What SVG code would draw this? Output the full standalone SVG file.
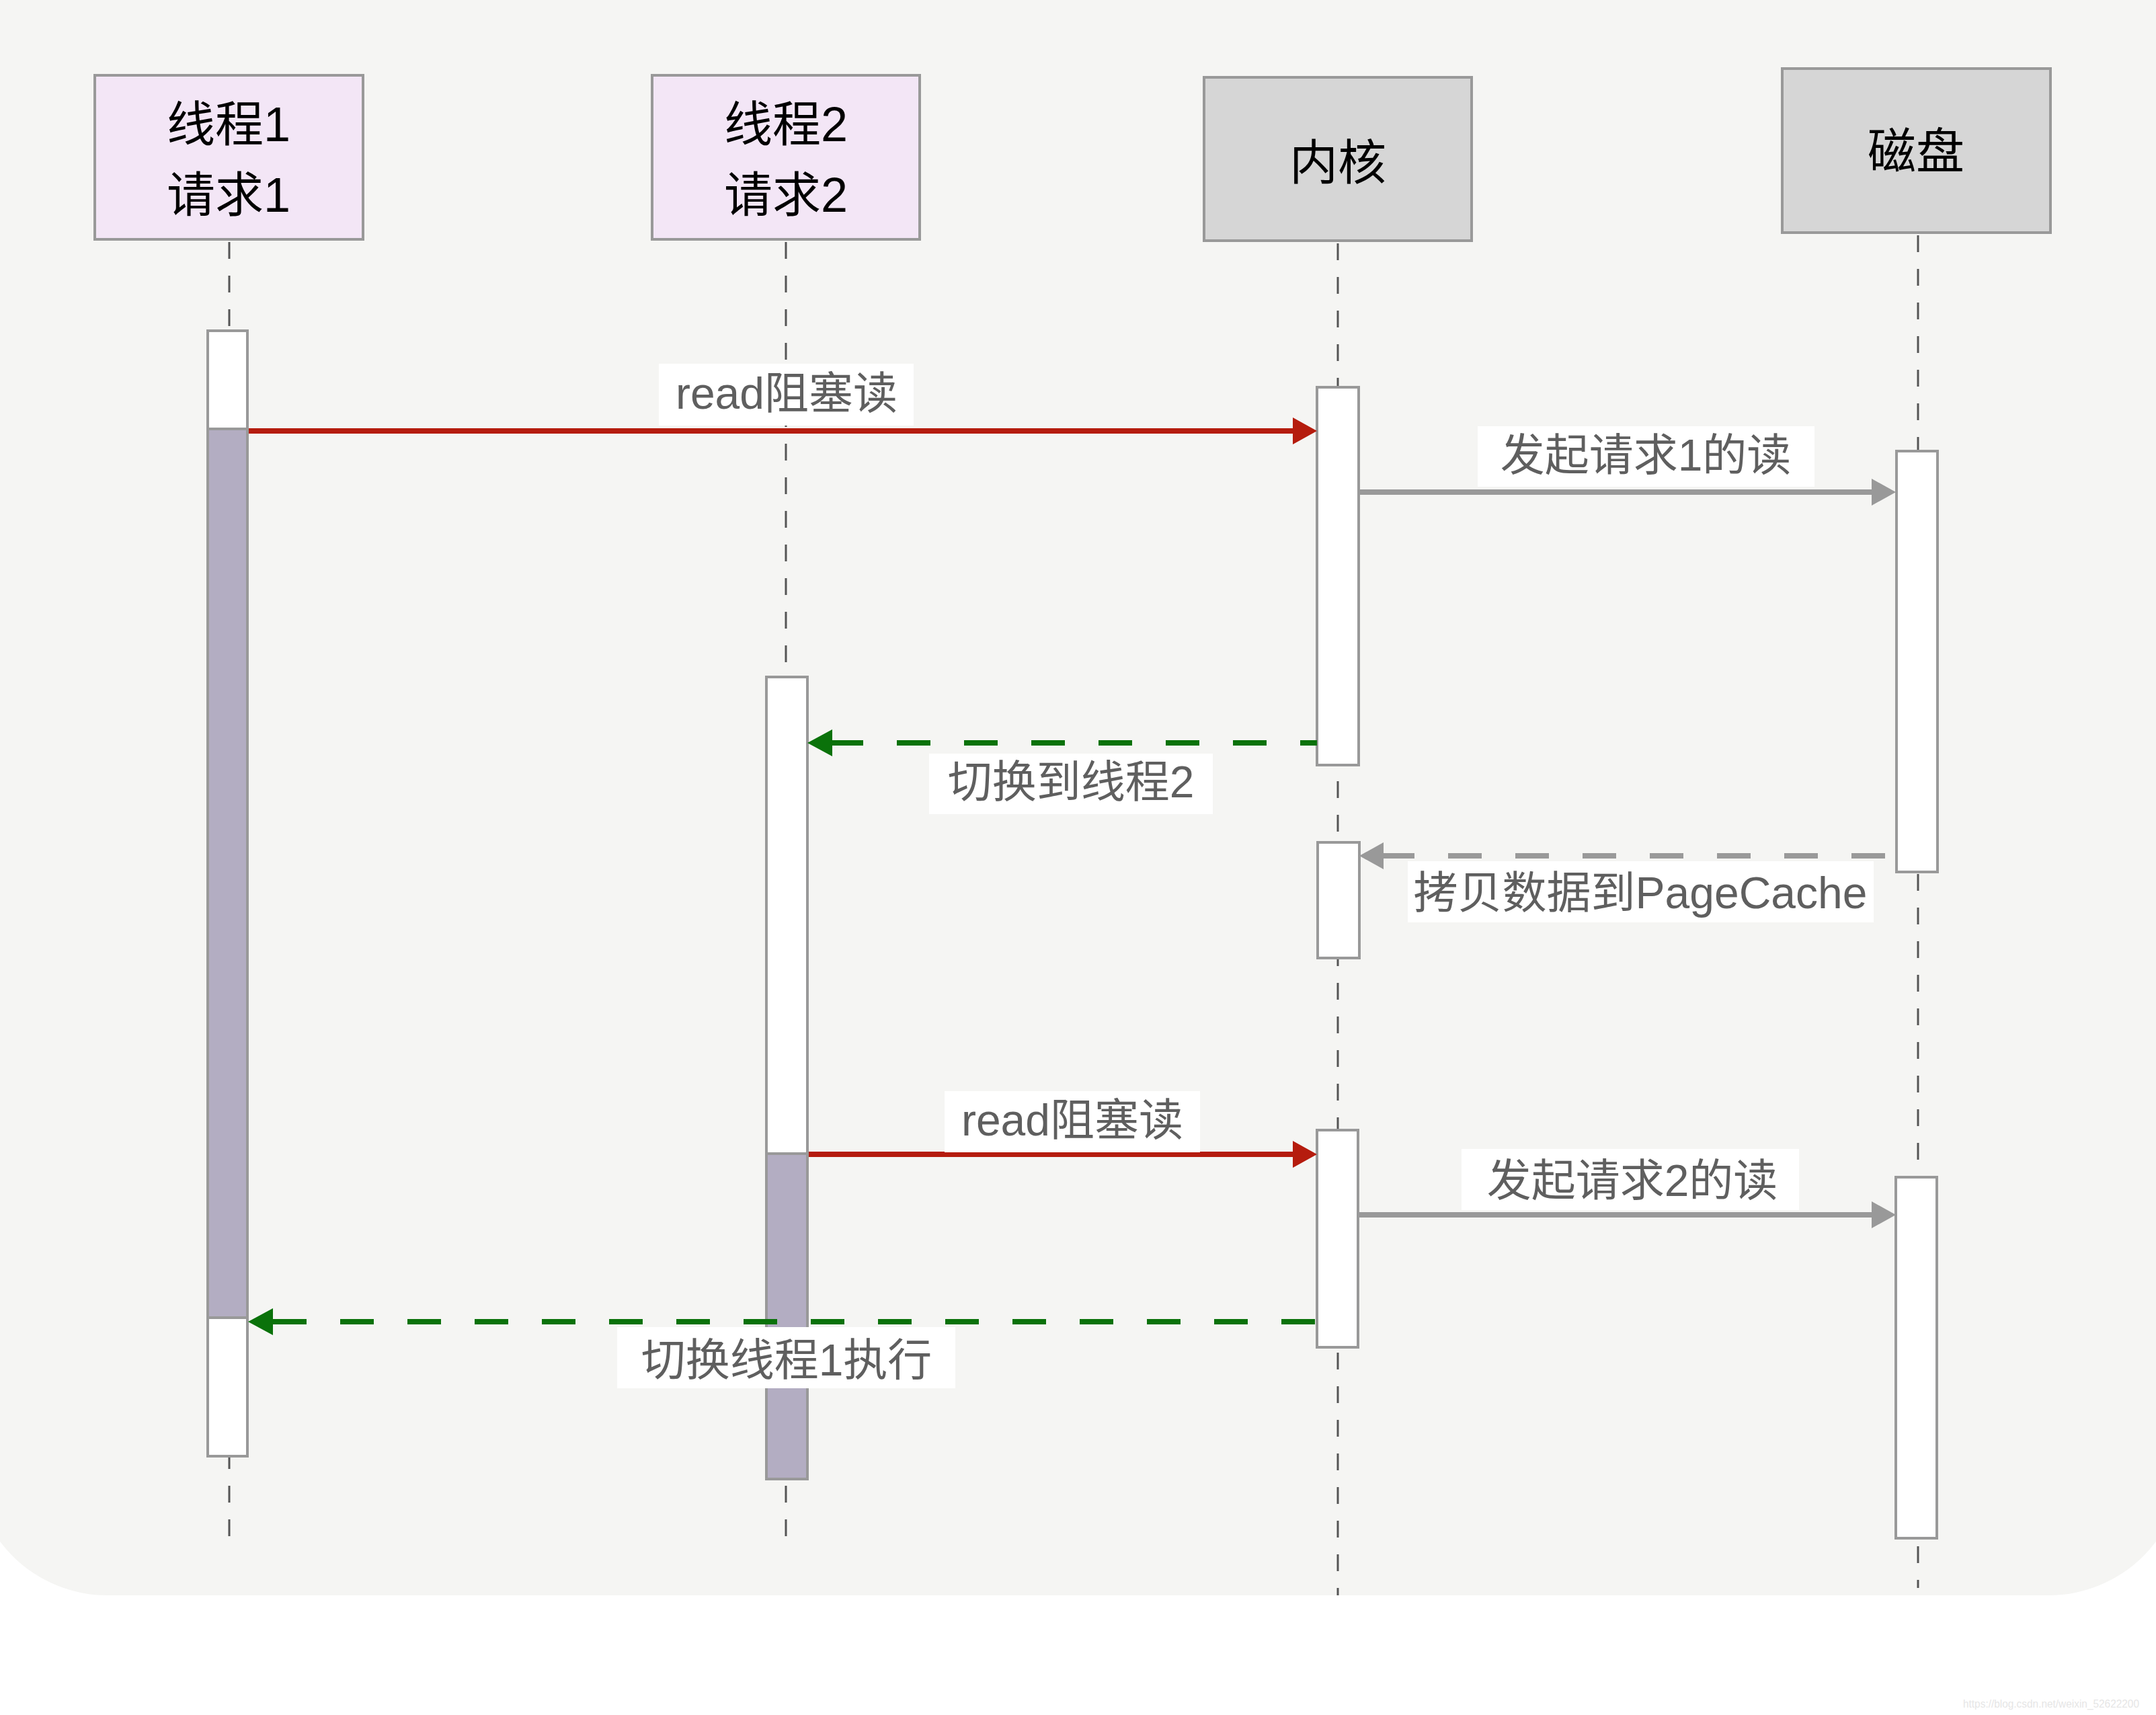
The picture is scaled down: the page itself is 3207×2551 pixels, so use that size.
<svg xmlns="http://www.w3.org/2000/svg" width="3207" height="2551" viewBox="0 0 3207 2551">
<style>
.node{stroke:#999999;stroke-width:4}
.thread{fill:#f3e6f6}
.sys{fill:#d6d6d6}
.ntext{font-family:"Liberation Sans","Noto Sans CJK SC",sans-serif;font-size:72px;fill:#000;text-anchor:middle}
.life{stroke:#555555;stroke-width:3;stroke-dasharray:25 25;fill:none}
.act{fill:#ffffff;stroke:#999999;stroke-width:4}
.busy{fill:#b3adc2;stroke:#999999;stroke-width:4}
.lbg{fill:#ffffff}
.ltext{font-family:"Liberation Sans","Noto Sans CJK SC",sans-serif;font-size:66px;fill:#5f5f5f;text-anchor:middle}
.red{stroke:#b51c0e;stroke-width:8;fill:none}
.gray{stroke:#999999;stroke-width:8;fill:none}
.green{stroke:#0a720a;stroke-width:8;fill:none;stroke-dasharray:50 50}
.graydash{stroke:#999999;stroke-width:8;fill:none;stroke-dasharray:50 50}
</style>
<rect x="-40" y="-180" width="3287" height="2553" rx="200" fill="#f5f5f3"/>
<g id="lifelines">
<line class="life" x1="341" y1="360" x2="341" y2="2291"/>
<line class="life" x1="1169" y1="360" x2="1169" y2="2303"/>
<line class="life" x1="1990" y1="362" x2="1990" y2="2373"/>
<line class="life" x1="2853" y1="350" x2="2853" y2="2362"/>
</g>
<g id="thread1">
<rect class="node thread" x="141" y="112" width="399" height="244"/>
<text class="ntext" x="340" y="210">线程1</text>
<text class="ntext" x="340" y="315">请求1</text>
</g>
<g id="thread2">
<rect class="node thread" x="970" y="112" width="398" height="244"/>
<text class="ntext" x="1169" y="210">线程2</text>
<text class="ntext" x="1169" y="315">请求2</text>
</g>
<g id="kernel">
<rect class="node sys" x="1791" y="115" width="398" height="243"/>
<text class="ntext" x="1990" y="267">内核</text>
</g>
<g id="disk">
<rect class="node sys" x="2651" y="102" width="399" height="244"/>
<text class="ntext" x="2850" y="250">磁盘</text>
</g>
<g id="activations">
<rect class="act" x="309" y="492" width="59" height="146"/>
<rect class="busy" x="309" y="638" width="59" height="1322"/>
<rect class="act" x="309" y="1960" width="59" height="206"/>
<rect class="act" x="1140" y="1007" width="61" height="709"/>
<rect class="busy" x="1140" y="1716" width="61" height="484"/>
<rect class="act" x="1959" y="576" width="62" height="562"/>
<rect class="act" x="1960" y="1253" width="62" height="172"/>
<rect class="act" x="1959" y="1681" width="61" height="323"/>
<rect class="act" x="2821" y="671" width="61" height="626"/>
<rect class="act" x="2820" y="1751" width="61" height="537"/>
</g>
<g id="connectors">
<line class="red" x1="370" y1="641" x2="1925" y2="641"/>
<polygon fill="#b51c0e" points="1959,641 1923,621 1923,661"/>
<line class="gray" x1="2023" y1="732" x2="2786" y2="732"/>
<polygon fill="#999999" points="2820,732 2784,712 2784,752"/>
<line class="green" x1="1234" y1="1105" x2="1959" y2="1105"/>
<polygon fill="#0a720a" points="1201,1105 1238,1085 1238,1125"/>
<line class="graydash" x1="2054" y1="1273" x2="2821" y2="1273"/>
<polygon fill="#999999" points="2022,1273 2058,1253 2058,1293"/>
<line class="red" x1="1203" y1="1717" x2="1925" y2="1717"/>
<polygon fill="#b51c0e" points="1959,1717 1923,1697 1923,1737"/>
<line class="gray" x1="2022" y1="1807" x2="2786" y2="1807"/>
<polygon fill="#999999" points="2820,1807 2784,1787 2784,1827"/>
<line class="green" x1="406" y1="1966" x2="1959" y2="1966"/>
<polygon fill="#0a720a" points="369,1966 406,1946 406,1986"/>
</g>
<g id="labels">
<rect class="lbg" x="980" y="541" width="379" height="92"/>
<text class="ltext" x="1170" y="608">read阻塞读</text>
<rect class="lbg" x="2198" y="634" width="501" height="90"/>
<text class="ltext" x="2448" y="700">发起请求1的读</text>
<rect class="lbg" x="1382" y="1121" width="422" height="90"/>
<text class="ltext" x="1593" y="1186">切换到线程2</text>
<rect class="lbg" x="2094" y="1281" width="693" height="91"/>
<text class="ltext" x="2440" y="1351">拷贝数据到PageCache</text>
<rect class="lbg" x="1405" y="1623" width="380" height="91"/>
<text class="ltext" x="1595" y="1689">read阻塞读</text>
<rect class="lbg" x="2174" y="1709" width="502" height="91"/>
<text class="ltext" x="2428" y="1779">发起请求2的读</text>
<rect class="lbg" x="918" y="1974" width="503" height="91"/>
<text class="ltext" x="1170" y="2046">切换线程1执行</text>
</g>
<text x="2920" y="2540" font-family="Liberation Sans, sans-serif" font-size="17" fill="#e6e6e6" textLength="262" lengthAdjust="spacingAndGlyphs">https://blog.csdn.net/weixin_52622200</text>
</svg>
